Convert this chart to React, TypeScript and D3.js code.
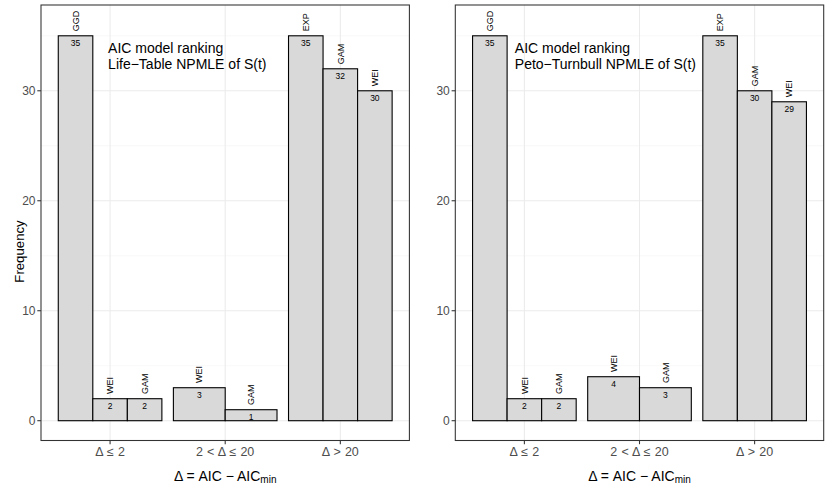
import React from "react";
import { scaleBand, scaleLinear } from "d3";

// categories on the x axis
const groups = ["Δ ≤ 2", "2 < Δ ≤ 20", "Δ > 20"];

// Life-Table panel
const lifeModels = [["GGD", "WEI", "GAM"], ["WEI", "GAM"], ["EXP", "GAM", "WEI"]];
const lifeCounts = [[35, 2, 2], [3, 1], [35, 32, 30]];

// Peto-Turnbull panel
const petoModels = [["GGD", "WEI", "GAM"], ["WEI", "GAM"], ["EXP", "GAM", "WEI"]];
const petoCounts = [[35, 2, 2], [4, 3], [35, 30, 29]];

const yTicks = [0, 10, 20, 30];
const yMinor = [5, 15, 25, 35];

const WIDTH = 830;
const HEIGHT = 485;
const FONT = "'Liberation Sans', Arial, Helvetica, sans-serif";
const PANEL_TOP = 5;
const PANEL_BOTTOM = 440.5;
const PANEL_W = 368.4;

interface PanelProps {
  x0: number;
  models: string[][];
  counts: number[][];
  note: string[];
  noteX: number;
}

const Panel = ({ x0, models, counts, note, noteX }: PanelProps) => {
  const x1 = x0 + PANEL_W;
  const yScale = scaleLinear().domain([-1.8, 37.8]).range([PANEL_BOTTOM, PANEL_TOP]);
  // ggplot discrete: 0.6 expansion each side, dodge width 0.9
  const xScale = scaleBand<string>()
    .domain(groups)
    .range([x0, x1])
    .paddingInner(0.1)
    .paddingOuter(0.15);
  const xCont = scaleLinear().domain([0.4, 3.6]).range([x0, x1]);
  const centre = (g: string) => xScale(g)! + xScale.bandwidth() / 2;

  return (
    <g>
      {/* grid */}
      {yMinor.map((t) => (
        <line key={"mi" + t} x1={x0} x2={x1} y1={yScale(t)} y2={yScale(t)} stroke="#f2f2f2" strokeWidth={0.55} />
      ))}
      {yTicks.map((t) => (
        <line key={"ma" + t} x1={x0} x2={x1} y1={yScale(t)} y2={yScale(t)} stroke="#ebebeb" strokeWidth={1.07} />
      ))}
      {groups.map((g) => (
        <line key={"vg" + g} x1={centre(g)} x2={centre(g)} y1={PANEL_TOP} y2={PANEL_BOTTOM} stroke="#ebebeb" strokeWidth={1.07} />
      ))}

      {/* bars */}
      {groups.map((g, gi) => {
        const inner = scaleBand<string>()
          .domain(models[gi])
          .range([xScale(g)!, xScale(g)! + xScale.bandwidth()]);
        return (
          <g key={"bars" + g}>
            {models[gi].map((m, mi) => {
              const v = counts[gi][mi];
              const bx = inner(m)!;
              const cx = bx + inner.bandwidth() / 2;
              return (
                <g key={m}>
                  <rect
                    x={bx}
                    y={yScale(v)}
                    width={inner.bandwidth()}
                    height={yScale(0) - yScale(v)}
                    fill="#d9d9d9"
                    stroke="#000"
                    strokeWidth={1.1}
                  />
                  <text x={cx} y={yScale(v) + 10.2} textAnchor="middle" fontSize={8.5} fill="#000">
                    {v}
                  </text>
                  <text
                    transform={`translate(${cx + 3.2},${yScale(v) - 4.6}) rotate(-90)`}
                    textAnchor="start"
                    fontSize={9}
                    fill="#000"
                  >
                    {m}
                  </text>
                </g>
              );
            })}
          </g>
        );
      })}

      {/* annotation */}
      <text x={xCont(noteX)} y={yScale(33.47)} fontSize={14} fill="#000">
        {note.map((line, i) => (
          <tspan key={i} x={xCont(noteX)} dy={i === 0 ? 0 : 16.5}>
            {line}
          </tspan>
        ))}
      </text>

      {/* panel border */}
      <rect x={x0} y={PANEL_TOP} width={PANEL_W} height={PANEL_BOTTOM - PANEL_TOP} fill="none" stroke="#333333" strokeWidth={1.07} />

      {/* y axis */}
      {yTicks.map((t) => (
        <g key={"yt" + t}>
          <line x1={x0 - 3.7} x2={x0} y1={yScale(t)} y2={yScale(t)} stroke="#333333" strokeWidth={1.07} />
          <text x={x0 - 5.5} y={yScale(t) + 4.3} textAnchor="end" fontSize={12} fill="#4d4d4d">
            {t}
          </text>
        </g>
      ))}

      {/* x axis */}
      {groups.map((g) => (
        <g key={"xt" + g}>
          <line x1={centre(g)} x2={centre(g)} y1={PANEL_BOTTOM} y2={PANEL_BOTTOM + 3.7} stroke="#333333" strokeWidth={1.07} />
          <text x={centre(g)} y={456.3} textAnchor="middle" fontSize={12.5} wordSpacing={0.6} fill="#4d4d4d">
            {g}
          </text>
        </g>
      ))}

      {/* x title */}
      <text x={(x0 + x1) / 2} y={480.5} textAnchor="middle" fontSize={14} fill="#000">
        Δ = AIC − AIC
        <tspan fontSize={10} dy={2.5}>min</tspan>
      </text>
    </g>
  );
};

const App = () => {
  return (
    <svg
      width={WIDTH}
      height={HEIGHT}
      style={{ position: "absolute", left: 0, top: 0, background: "#fff" }}
      fontFamily={FONT}
    >
      <rect width={WIDTH} height={HEIGHT} fill="#fff" />
      <text transform="translate(23.5,251.5) rotate(-90)" textAnchor="middle" fontSize={13.2} fill="#000">
        Frequency
      </text>
      <Panel
        x0={41}
        models={lifeModels}
        counts={lifeCounts}
        note={["AIC model ranking", "Life−Table NPMLE of S(t)"]}
        noteX={0.983}
      />
      <Panel
        x0={455.3}
        models={petoModels}
        counts={petoCounts}
        note={["AIC model ranking", "Peto−Turnbull NPMLE of S(t)"]}
        noteX={0.917}
      />
    </svg>
  );
};

export default App;
